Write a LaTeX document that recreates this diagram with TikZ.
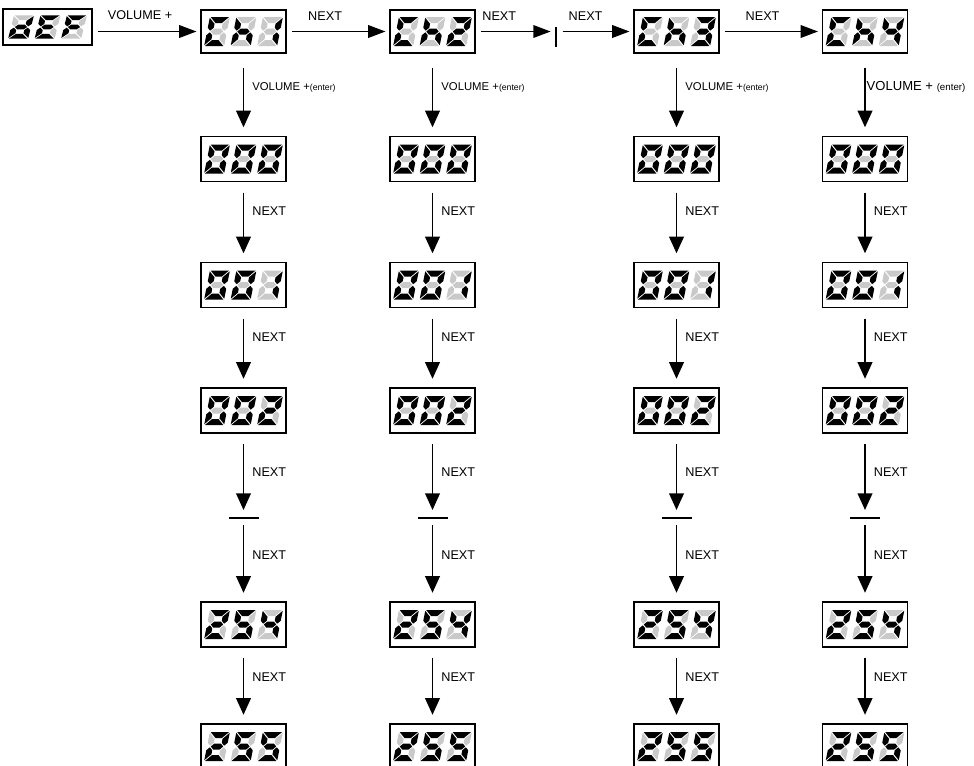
\documentclass[tikz,border=0pt]{standalone}
\usepackage{fontspec}
\setmainfont{Liberation Sans}
\usetikzlibrary{arrows.meta,calc}
\colorlet{segK}{black}
\colorlet{sego}{black!21}
% seven segment digit, pattern a b c d e f g (K = lit, o = unlit)
\def\segparse#1#2#3#4#5#6#7\relax{%
 \fill[seg#1] (0.8,29)--(19.2,29)--(13.2,23)--(6.8,23)--cycle;
 \fill[seg#2] (20,28.2)--(14,22.2)--(14,18.3)--(17,15.3)--(20,18.3)--cycle;
 \fill[seg#3] (20,0.8)--(14,6.8)--(14,10.7)--(17,13.7)--(20,10.7)--cycle;
 \fill[seg#4] (0.8,0)--(19.2,0)--(13.2,6)--(6.8,6)--cycle;
 \fill[seg#5] (0,0.8)--(6,6.8)--(6,10.7)--(3,13.7)--(0,10.7)--cycle;
 \fill[seg#6] (0,28.2)--(6,22.2)--(6,18.3)--(3,15.3)--(0,18.3)--cycle;
 \fill[seg#7] (3.8,14.5)--(6.8,17.5)--(13.2,17.5)--(16.2,14.5)--(13.2,11.5)--(6.8,11.5)--cycle;
}
\newcommand\segdig[2]{\begin{scope}[shift={#1},xslant=0.2]\segparse#2\relax\end{scope}}
\newcommand\lcd[6]{%
 \begin{scope}[shift={(#1.center)},xscale=#2,yscale=#3]
  \segdig{(-39.4,-14.5)}{#4}\segdig{(-12.9,-14.5)}{#5}\segdig{(13.6,-14.5)}{#6}
 \end{scope}}
\tikzset{
 lcdbox/.style={draw=black,line width=0.8pt,fill=white,minimum width=63.75pt,minimum height=33.75pt,inner sep=0pt},
 topbox/.style={lcdbox,minimum height=32.25pt},
 defbox/.style={lcdbox,minimum width=66.75pt,minimum height=27pt},
 vbarnode/.style={fill=black,minimum width=1.7pt,minimum height=15pt,inner sep=0pt},
 hbarnode/.style={fill=black,minimum width=22.5pt,minimum height=1.6pt,inner sep=0pt},
 hcon/.style={line width=1.1pt,-{Triangle[length=13pt,width=9.5pt]},shorten <=4pt,shorten >=3pt},
 vcon/.style={line width=1.3pt,-{Triangle[length=12.5pt,width=11pt]},shorten <=8pt,shorten >=6.5pt},
 hlab/.style={above=8pt,inner sep=0pt,font=\fontsize{9.5}{11}\selectfont},
 vlab/.style={right=6pt,inner sep=0pt,font=\fontsize{9.5}{11}\selectfont},
 vlabnear/.style={anchor=west,inner sep=0pt,xshift=0.6pt,font=\fontsize{9.8}{11}\selectfont},
 enterlab/.style={font=\fontsize{8.5}{10}\selectfont},
}
\newcommand\enterword[1]{{\fontsize{#1}{8}\selectfont(enter)}}
\begin{document}
\begin{tikzpicture}[x=0.75pt,y=0.75pt]
\fill[white] (0,0) rectangle (974,-765);
\useasboundingbox (0,0) rectangle (974,-765);
% top row
\node[defbox] (def) at (47.5,-27) {};
\node[topbox] (ch1) at (243.5,-31.5) {};
\node[topbox] (ch2) at (432.5,-31.5) {};
\node[vbarnode] (tbar) at (556,-36.5) {};
\node[topbox] (ch3) at (676.5,-31.5) {};
\node[topbox] (ch4) at (865,-31.5) {};
\lcd{def}{1}{0.8}{oKKKKoK}{KooKKKK}{KoooKKK}
\lcd{ch1}{1}{1}{KooKKKo}{ooKoKKK}{oKKoooo}
\lcd{ch2}{1}{1}{KooKKKo}{ooKoKKK}{KKoKKoK}
\lcd{ch3}{1}{1}{KooKKKo}{ooKoKKK}{KKKKooK}
\lcd{ch4}{1}{1}{KooKKKo}{ooKoKKK}{oKKooKK}
% columns
\foreach \c/\x in {1/243.5,2/432.5,3/676.5,4/865}{
 \node[lcdbox] (col\c-0) at (\x,-159) {};
 \node[lcdbox] (col\c-1) at (\x,-285) {};
 \node[lcdbox] (col\c-2) at (\x,-410.5) {};
 \node[hbarnode] (bar\c) at (\x,-518) {};
 \node[lcdbox] (col\c-3) at (\x,-624.5) {};
 \node[lcdbox] (col\c-4) at (\x,-746.5) {};
 \lcd{col\c-0}{1}{1}{KKKKKKo}{KKKKKKo}{KKKKKKo}
 \lcd{col\c-1}{1}{1}{KKKKKKo}{KKKKKKo}{oKKoooo}
 \lcd{col\c-2}{1}{1}{KKKKKKo}{KKKKKKo}{KKoKKoK}
 \lcd{col\c-3}{1}{1}{KKoKKoK}{KoKKoKK}{oKKooKK}
 \lcd{col\c-4}{1}{1}{KKoKKoK}{KoKKoKK}{KoKKoKK}
 \draw[vcon] (col\c-0.south) -- node[vlab,pos=0.37]{NEXT} (col\c-1.north);
 \draw[vcon] (col\c-1.south) -- node[vlab,pos=0.37]{NEXT} (col\c-2.north);
 \draw[vcon,shorten >=5pt] (col\c-2.south) -- node[vlab,pos=0.47]{NEXT} (bar\c.north);
 \draw[vcon,shorten <=4.5pt] (bar\c.south) -- node[vlab,pos=0.44]{NEXT} (col\c-3.north);
 \draw[vcon] (col\c-3.south) -- node[vlab,pos=0.39]{NEXT} (col\c-4.north);
}
% top connectors
\draw[hcon] (def.east |- ch1.west) -- node[hlab,pos=0.44]{VOLUME +} (ch1.west);
\draw[hcon] (ch1.east) -- node[hlab,pos=0.375]{NEXT} (ch2.west);
\draw[hcon] (ch2.east) -- node[hlab,pos=0.3]{NEXT} (tbar.west |- ch2.east);
\draw[hcon] (tbar.east |- ch3.west) -- node[hlab,pos=0.37]{NEXT} (ch3.west);
\draw[hcon] (ch3.east) -- node[hlab,pos=0.42]{NEXT} (ch4.west);
\draw[vcon,shorten <=10.5pt] (ch1.south) -- node[vlab,pos=0.41,enterlab]{VOLUME +\enterword{6.5}} (col1-0.north);
\draw[vcon,shorten <=10.5pt] (ch2.south) -- node[vlab,pos=0.41,enterlab]{VOLUME +\enterword{6.5}} (col2-0.north);
\draw[vcon,shorten <=10.5pt] (ch3.south) -- node[vlab,pos=0.41,enterlab]{VOLUME +\enterword{6.5}} (col3-0.north);
\draw[vcon,shorten <=10.5pt] (ch4.south) -- node[vlabnear,pos=0.41]{VOLUME + \enterword{7.3}} (col4-0.north);
\end{tikzpicture}
\end{document}
